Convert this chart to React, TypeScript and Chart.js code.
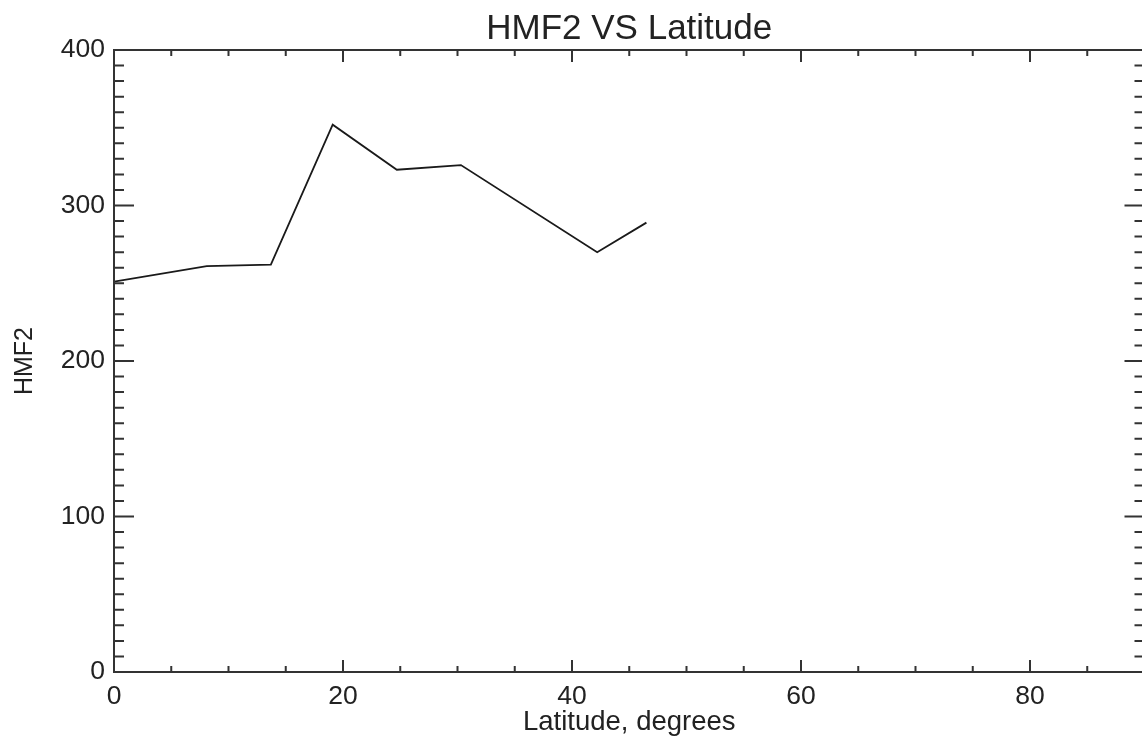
import React, { useEffect, useRef } from "react";
import { Chart, registerables } from "chart.js";

Chart.register(...registerables);

const latitudes = [0, 8.1, 13.7, 19.1, 24.7, 30.3, 42.2, 46.5];
const hmf2Values = [251, 261, 262, 352, 323, 326, 270, 289];
const chartTitle = "HMF2 VS Latitude";
const xTitle = "Latitude, degrees";
const yTitle = "HMF2";

const FONT = "'Liberation Sans', Arial, Helvetica, sans-serif";
const INK = "#222222";

const frameTicks = {
  id: "frameTicks",
  afterDraw(chart: any) {
    const { ctx, chartArea } = chart;
    const xs = chart.scales.x;
    const ys = chart.scales.y;
    const { left, right, top, bottom } = chartArea;
    ctx.save();
    ctx.strokeStyle = "#333333";
    ctx.lineWidth = 2;
    ctx.beginPath();
    ctx.rect(left, top, right - left, bottom - top);
    ctx.stroke();
    ctx.beginPath();
    for (let v = 0; v <= 90; v += 5) {
      const px = xs.getPixelForValue(v);
      const len = v % 20 === 0 ? 12 : 6;
      ctx.moveTo(px, bottom);
      ctx.lineTo(px, bottom - len);
      ctx.moveTo(px, top);
      ctx.lineTo(px, top + len);
    }
    for (let v = 0; v <= 400; v += 10) {
      const py = ys.getPixelForValue(v);
      const len = v % 100 === 0 ? 20 : 10;
      ctx.moveTo(left, py);
      ctx.lineTo(left + len, py);
      ctx.moveTo(right, py);
      ctx.lineTo(right - len, py);
    }
    ctx.stroke();
    ctx.restore();
  },
};

export default function App() {
  const ref = useRef<HTMLCanvasElement | null>(null);
  useEffect(() => {
    if (!ref.current) return;
    const chart = new Chart(ref.current, {
      type: "line",
      data: {
        datasets: [
          {
            data: latitudes.map((x, i) => ({ x, y: hmf2Values[i] })),
            borderColor: "#1a1a1a",
            borderWidth: 1.8,
            pointRadius: 0,
            tension: 0,
            fill: false,
          },
        ],
      },
      options: {
        animation: false,
        responsive: true,
        maintainAspectRatio: false,
        layout: { padding: { top: 0, right: 1.5, bottom: 0, left: 0 } },
        plugins: {
          legend: { display: false },
          tooltip: { enabled: false },
          title: { display: false },
        },
        scales: {
          x: {
            type: "linear",
            min: 0,
            max: 90,
            grid: { display: false, drawTicks: false },
            border: { display: false },
            ticks: {
              stepSize: 20,
              includeBounds: false,
              color: INK,
              padding: 9,
              maxRotation: 0,
              font: { family: FONT, size: 26.5 },
            },
            title: {
              display: true,
              text: xTitle,
              color: INK,
              font: { family: FONT, size: 27.5 },
              padding: { top: 0, bottom: 1 },
            },
            afterFit(scale: any) {
              scale.height = 68;
            },
          },
          xTop: {
            type: "linear",
            position: "top",
            min: 0,
            max: 90,
            grid: { display: false, drawTicks: false },
            border: { display: false },
            ticks: { display: false },
            title: {
              display: true,
              text: chartTitle,
              color: INK,
              font: { family: FONT, size: 35 },
              padding: { top: 8, bottom: 0 },
            },
            afterFit(scale: any) {
              scale.height = 50;
            },
          },
          y: {
            type: "linear",
            min: 0,
            max: 400,
            grid: { display: false, drawTicks: false },
            border: { display: false },
            ticks: {
              stepSize: 100,
              color: INK,
              padding: 9,
              font: { family: FONT, size: 26.5 },
            },
            title: {
              display: true,
              text: yTitle,
              color: INK,
              font: { family: FONT, size: 25 },
              padding: { top: 10, bottom: 0 },
            },
            afterFit(scale: any) {
              scale.width = 114;
            },
          },
        },
      },
      plugins: [frameTicks],
    });
    return () => chart.destroy();
  }, []);

  return (
    <div
      style={{
        position: "absolute",
        left: 0,
        top: 0,
        width: 1142,
        height: 740,
        overflow: "hidden",
        background: "#ffffff",
      }}
    >
      <div style={{ position: "relative", width: 1146, height: 740 }}>
        <canvas ref={ref} />
      </div>
    </div>
  );
}
